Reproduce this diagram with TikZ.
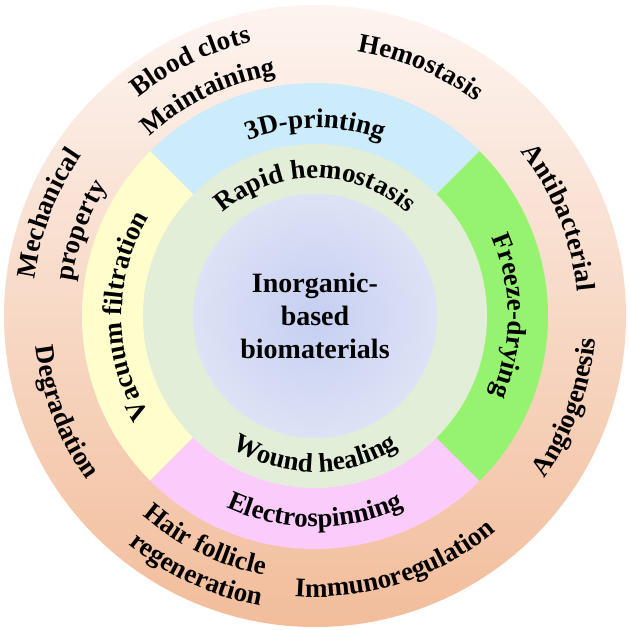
\documentclass[tikz,border=0pt]{standalone}
\usepackage{fontspec}
\setmainfont{Liberation Serif}
\usetikzlibrary{decorations.text}
\definecolor{ringblush}{RGB}{253,244,240}
\definecolor{ringmid}{RGB}{248,214,194}
\definecolor{ringpeach}{RGB}{242,189,155}
\definecolor{printblue}{RGB}{204,235,251}
\definecolor{filtyellow}{RGB}{255,253,204}
\definecolor{dryinggreen}{RGB}{150,243,111}
\definecolor{spinpink}{RGB}{251,203,251}
\definecolor{healgreen}{RGB}{226,238,216}
\definecolor{corelilac}{RGB}{198,207,241}
\definecolor{coreedge}{RGB}{222,226,246}
\newcommand{\arcfont}{\fontsize{27}{30}\selectfont\bfseries}

\begin{document}
\begin{tikzpicture}[
    x=1pt, y=1pt,
    arclabel/.style={
      decorate,
      decoration={
        text along path,
        text align=center,
        text={|\arcfont|#1}
      }
    }
  ]
    \useasboundingbox (-315pt,-314pt) rectangle (315pt,316pt);

    % outer ring
    \shade[top color=ringblush, middle color=ringmid, bottom color=ringpeach]
      (0,0) circle[radius=311pt];

    % processing methods
    \fill[printblue] (0,0) -- (45:233pt) arc[start angle=45, end angle=135, radius=233pt] -- cycle;
    \fill[filtyellow] (0,0) -- (135:233pt) arc[start angle=135, end angle=225, radius=233pt] -- cycle;
    \fill[spinpink] (0,0) -- (225:233pt) arc[start angle=225, end angle=315, radius=233pt] -- cycle;
    \fill[dryinggreen] (0,0) -- (-45:233pt) arc[start angle=-45, end angle=45, radius=233pt] -- cycle;

    % applications and core
    \fill[healgreen] (0,0) circle[radius=172pt];
    \shade[inner color=corelilac, outer color=coreedge] (0,0) circle[radius=122pt];

    \node[align=center, font=\fontsize{28}{33}\selectfont\bfseries] (core) at (0,0)
      {Inorganic-\\based\\biomaterials};

    % inner ring
    \path[arclabel={Rapid hemostasis}] (160:138pt) arc[start angle=160, end angle=20, radius=138pt];
    \path[arclabel={Wound healing}] (200:156pt) arc[start angle=200, end angle=340, radius=156pt];

    % middle ring
    \path[arclabel={3D-printing}] (150:188pt) arc[start angle=150, end angle=30, radius=188pt];
    \path[arclabel={Electrospinning}] (210:211pt) arc[start angle=210, end angle=330, radius=211pt];
    \path[arclabel={Vacuum filtration}] (240:193pt) arc[start angle=240, end angle=120, radius=193pt];
    \path[arclabel={Freeze-drying}] (60:193pt) arc[start angle=60, end angle=-60, radius=193pt];

    % outer ring
    \path[arclabel={Hemostasis}] (110:268pt) arc[start angle=110, end angle=24, radius=268pt];
    \path[arclabel={Blood clots}] (160:281pt) arc[start angle=160, end angle=72, radius=281pt];
    \path[arclabel={Maintaining}] (160:244pt) arc[start angle=160, end angle=72, radius=244pt];
    \path[arclabel={Mechanical}] (204:283pt) arc[start angle=204, end angle=114, radius=283pt];
    \path[arclabel={property}] (205:245pt) arc[start angle=205, end angle=115, radius=245pt];
    \path[arclabel={Antibacterial}] (65:263pt) arc[start angle=65, end angle=-21, radius=263pt];
    \path[arclabel={Angiogenesis}] (-63:281pt) arc[start angle=-63, end angle=23, radius=281pt];
    \path[arclabel={Degradation}] (159:281pt) arc[start angle=159, end angle=243, radius=281pt];
    \path[arclabel={Hair follicle}] (202:264pt) arc[start angle=202, end angle=286, radius=264pt];
    \path[arclabel={regeneration}] (203:295pt) arc[start angle=203, end angle=287, radius=295pt];
    \path[arclabel={Immunoregulation}] (243:281pt) arc[start angle=243, end angle=333, radius=281pt];
  \end{tikzpicture}
\end{document}
